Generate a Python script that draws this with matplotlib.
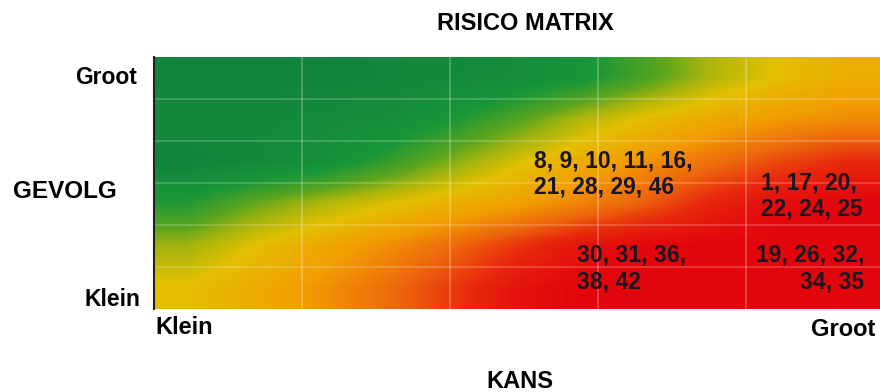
import numpy as np
import matplotlib
matplotlib.use("Agg")
import matplotlib.pyplot as plt
from matplotlib.colors import LinearSegmentedColormap

# ---------------- data ----------------
title = "RISICO MATRIX"
x_title = "KANS"
y_title = "GEVOLG"
x_tick_labels = ["Klein", "Groot"]
y_tick_labels = ["Klein", "Groot"]

n_kans_cols = 5       # columns of the matrix (last one partly cut off)
n_gevolg_rows = 6     # rows of the matrix

# risk numbers per group and their place on the matrix (kans, gevolg in cell units)
risk_groups = ["8, 9, 10, 11, 16,\n21, 28, 29, 46",
               "1, 17, 20,\n22, 24, 25",
               "30, 31, 36,\n38, 42",
               "19, 26, 32,\n34, 35"]
group_kans = [2.57, 4.10, 2.86, 4.80]
group_gevolg = [3.21, 2.69, 0.96, 0.96]
group_align = ["left", "left", "left", "right"]

# background colour level (0 = green, 1 = red), rows top -> bottom
heat_levels = [
    [0.00, 0.00, 0.00, 0.02, 0.05, 0.10, 0.18, 0.32, 0.47, 0.56, 0.62],
    [0.05, 0.05, 0.07, 0.10, 0.20, 0.33, 0.47, 0.57, 0.64, 0.69, 0.72],
    [0.00, 0.05, 0.12, 0.25, 0.40, 0.53, 0.63, 0.71, 0.78, 0.85, 0.90],
    [0.22, 0.36, 0.46, 0.54, 0.61, 0.67, 0.74, 0.82, 0.92, 0.98, 1.00],
    [0.44, 0.55, 0.64, 0.71, 0.79, 0.88, 0.96, 1.00, 1.00, 1.00, 1.00],
    [0.56, 0.63, 0.70, 0.78, 0.87, 0.96, 1.00, 1.00, 1.00, 1.00, 1.00],
]

# ---------------- style ----------------
plt.rcParams['font.family'] = ['Liberation Sans', 'DejaVu Sans']
W, H = 880, 392
fig = plt.figure(figsize=(W / 100, H / 100), dpi=100)
fig.patch.set_facecolor("white")

ax_left, ax_right, ax_top, ax_bottom = 154, 880, 57, 309
ax = fig.add_axes([ax_left / W, 1 - ax_bottom / H,
                   (ax_right - ax_left) / W, (ax_bottom - ax_top) / H])

cmap = LinearSegmentedColormap.from_list("risk", [
    (0.00, (0.07, 0.52, 0.24)),
    (0.20, (0.10, 0.59, 0.22)),
    (0.35, (0.36, 0.65, 0.12)),
    (0.45, (0.66, 0.71, 0.05)),
    (0.55, (0.89, 0.75, 0.00)),
    (0.68, (0.95, 0.62, 0.01)),
    (0.80, (0.93, 0.40, 0.05)),
    (0.90, (0.91, 0.16, 0.05)),
    (1.00, (0.89, 0.02, 0.05)),
])

x_max = (ax_right - ax_left) / 148.0
ax.imshow(np.array(heat_levels), cmap=cmap, vmin=0, vmax=1, aspect="auto",
          interpolation="bilinear", extent=(0, x_max, 0, n_gevolg_rows),
          origin="upper")
ax.set_xlim(0, x_max)
ax.set_ylim(0, n_gevolg_rows)

for c in range(1, n_kans_cols):
    ax.axvline(c, color="white", alpha=0.28, lw=1.2)
for r in range(1, n_gevolg_rows):
    ax.axhline(r, color="white", alpha=0.22, lw=1.2)

ax.set_xticks([])
ax.set_yticks([])
for s in ["top", "right", "bottom"]:
    ax.spines[s].set_visible(False)
ax.spines["left"].set_color("#222222")
ax.spines["left"].set_linewidth(1.5)

for txt, kx, gy, al in zip(risk_groups, group_kans, group_gevolg, group_align):
    ax.text(kx, gy, txt, ha=al, va="center", multialignment=al,
            fontsize=16.5, fontweight="bold", color="#1c1420", linespacing=1.2)

# titles and labels
fig.text(525 / W, 1 - 24 / H, title, ha="center", va="center",
         fontsize=17, fontweight="bold", color="black")
fig.text(520 / W, 1 - 381 / H, x_title, ha="center", va="center",
         fontsize=17, fontweight="bold", color="black")
fig.text(13 / W, 1 - 192 / H, y_title, ha="left", va="center",
         fontsize=17.5, fontweight="bold", color="black")
fig.text(137 / W, 1 - 78 / H, y_tick_labels[1], ha="right", va="center",
         fontsize=16.5, fontweight="bold", color="black")
fig.text(140 / W, 1 - 300 / H, y_tick_labels[0], ha="right", va="center",
         fontsize=16.5, fontweight="bold", color="black")
fig.text(155 / W, 1 - 328 / H, x_tick_labels[0], ha="left", va="center",
         fontsize=17, fontweight="bold", color="black")
fig.text(875 / W, 1 - 330 / H, x_tick_labels[1], ha="right", va="center",
         fontsize=17, fontweight="bold", color="black")

fig.savefig("out.png", dpi=100)
